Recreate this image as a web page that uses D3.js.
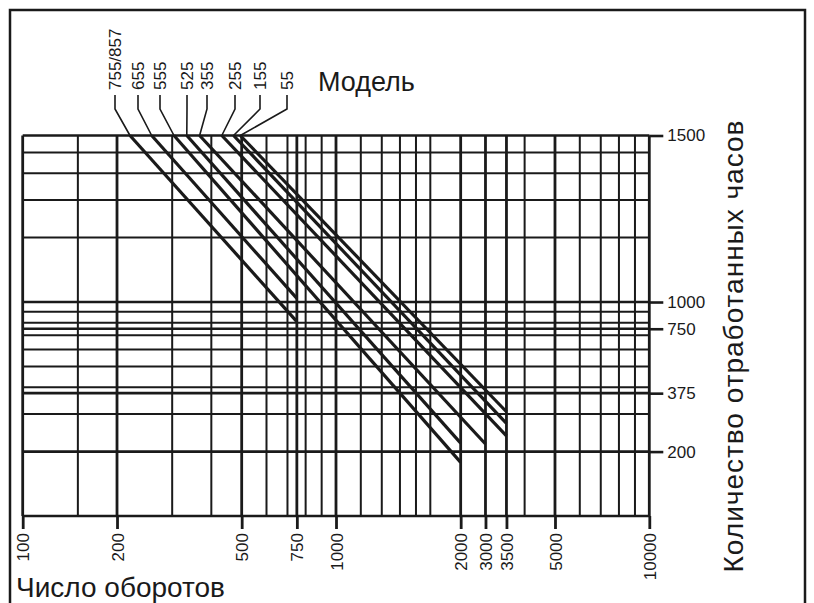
<!DOCTYPE html>
<html><head><meta charset="utf-8">
<script src="https://cdn.jsdelivr.net/npm/d3@7"></script>
<style>html,body{margin:0;padding:0;background:#fff;}svg{display:block;font-family:"Liberation Sans",Arial,sans-serif;}</style>
</head><body>
<svg id="c" width="814" height="603"></svg>
<script>
// ---- data ----
const models    = ["755/857","655","555","525","355","255","155","55"];
const startRpm  = [220, 258, 304, 334, 367, 432, 471, 495];
const startHrs  = [6000, 6000, 6000, 6000, 6000, 6000, 6000, 6000];
const endRpm    = [750, 750, 2500, 2500, 3000, 3500, 3500, 3500];
const endHrs    = [810, 1040, 178, 219, 217, 237, 271, 307];

const xTickValues = [100,200,500,750,1000,2500,3000,3500,5000,10000];
const xTickLabels = ["100","200","500","750","1000","2000","3000","3500","5000","10000"];
const yTickValues = [200,375,750,1000,6000];
const yTickLabels = ["200","375","750","1000","1500"];
const xGrid = [100,150,200,300,400,500,600,700,750,800,900,1000,1200,1400,1600,1800,2000,2500,3000,3500,4000,5000,6000,7000,8000,9000,10000];
const yGrid = [100,200,300,375,400,500,600,700,750,800,900,1000,2000,3000,4000,5000,6000];

// ---- layout ----
const labelX = [115, 138, 160, 187, 207, 235, 260, 287];
const L = 22.7, R = 649.3, B = 516, T = 135.5;

const svg = d3.select("#c");
const x = d3.scaleLog().domain([100,10000]).range([L,R]);
const y = d3.scaleLog().domain([100,6000]).range([B,T]);
const ink = "#1a1a1a";

// frame
svg.append("rect").attr("x",10).attr("y",10).attr("width",795).attr("height",620)
  .attr("fill","none").attr("stroke",ink).attr("stroke-width",2.5);

// grid
const g = svg.append("g");
g.selectAll("line.v").data(xGrid).join("line")
  .attr("x1",d=>x(d)).attr("x2",d=>x(d)).attr("y1",y(6000)).attr("y2",y(100))
  .attr("stroke",ink).attr("stroke-width",d=>xTickValues.includes(d)?2.8:2);
g.selectAll("line.h").data(yGrid).join("line")
  .attr("x1",x(100)).attr("x2",x(10000)).attr("y1",d=>y(d)).attr("y2",d=>y(d))
  .attr("stroke",ink).attr("stroke-width",d=>(yTickValues.includes(d)||d===100)?2.6:2);

// bottom axis
const xAxis = d3.axisBottom(x).tickValues(xTickValues).tickSize(13).tickPadding(4)
  .tickFormat((d,i)=>xTickLabels[i]);
const gx = svg.append("g").attr("transform",`translate(0,${B})`).call(xAxis);
gx.select(".domain").remove();
gx.selectAll(".tick line").attr("stroke",ink).attr("stroke-width",2.8);
gx.selectAll(".tick text").attr("font-size",17).attr("fill",ink)
  .attr("transform","rotate(-90)").attr("text-anchor","end")
  .attr("x",-17).attr("y",0).attr("dy","0.36em");

// right axis
const yAxis = d3.axisRight(y).tickValues(yTickValues).tickSize(14).tickPadding(4)
  .tickFormat((d,i)=>yTickLabels[i]);
const gy = svg.append("g").attr("transform",`translate(${R},0)`).call(yAxis);
gy.select(".domain").remove();
gy.selectAll(".tick line").attr("stroke",ink).attr("stroke-width",2.6);
gy.selectAll(".tick text").attr("font-size",17).attr("fill",ink);

// model lines
const idx = d3.range(models.length);
svg.append("g").selectAll("line").data(idx).join("line")
  .attr("x1",i=>x(startRpm[i])).attr("y1",i=>y(startHrs[i]))
  .attr("x2",i=>x(endRpm[i])).attr("y2",i=>y(endHrs[i]))
  .attr("stroke",ink).attr("stroke-width",3.2).attr("stroke-linecap","butt");

// leaders
svg.append("g").selectAll("path").data(idx).join("path")
  .attr("d",i=>`M${labelX[i]},95 L${labelX[i]},109 L${x(startRpm[i])},${y(startHrs[i])}`)
  .attr("fill","none").attr("stroke",ink).attr("stroke-width",1.6);

// model labels
svg.append("g").selectAll("text").data(idx).join("text")
  .attr("transform",i=>`translate(${labelX[i]},90) rotate(-90)`)
  .attr("dy","0.36em").attr("font-size",17).attr("fill",ink)
  .text(i=>models[i]);

svg.append("text").attr("x",318).attr("y",91).attr("font-size",27).attr("fill",ink).text("Модель");
svg.append("text").attr("x",16).attr("y",597).attr("font-size",28).attr("fill",ink).text("Число оборотов");
svg.append("text").attr("transform","translate(743,346) rotate(-90)").attr("text-anchor","middle")
  .attr("font-size",28).attr("letter-spacing",1).attr("fill",ink).text("Количество отработанных часов");
</script>
</body></html>
